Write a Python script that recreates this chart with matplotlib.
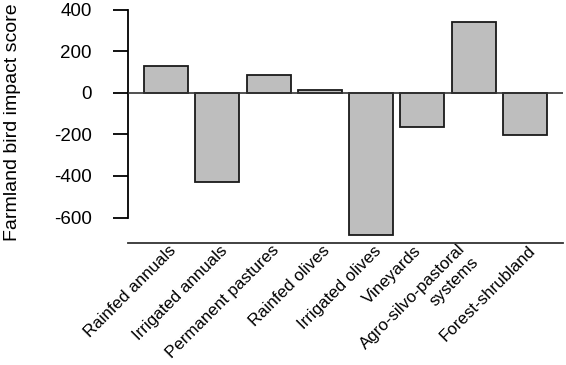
import numpy as np
import matplotlib
matplotlib.use("Agg")
import matplotlib.pyplot as plt
import matplotlib.transforms as mtransforms

plt.rcParams['font.family'] = ['Liberation Sans', 'DejaVu Sans']

# land-use categories and impact scores
categories = ["Rainfed annuals", "Irrigated annuals", "Permanent pastures",
              "Rainfed olives", "Irrigated olives", "Vineyards",
              "Agro-silvo-pastoral\nsystems", "Forest-shrubland"]
scores = [130, -430, 85, 12, -685, -163, 340, -205]
yticks = [400, 200, 0, -200, -400, -600]

fig = plt.figure(figsize=(5.66, 3.65), dpi=100)
ax = fig.add_axes([128 / 566, 1 - 242.7 / 365, 435 / 566, 242.7 / 365])

x = np.arange(len(categories))
ax.bar(x, scores, width=0.857, color='#bebebe', edgecolor='#1a1a1a', linewidth=1.3, zorder=2)
ax.axhline(0, color='#333333', linewidth=1.2, zorder=3)

ax.set_xlim(-0.741, len(categories) - 1 + 0.741)
ax.set_ylim(-721, 446)

for s in ['top', 'right']:
    ax.spines[s].set_visible(False)
ax.spines['left'].set_bounds(-600, 400)
ax.spines['left'].set_linewidth(1.3)
ax.spines['bottom'].set_linewidth(1.3)
ax.spines['bottom'].set_color('#333333')

ax.set_yticks(yticks)
ax.set_yticklabels([str(v) for v in yticks], fontsize=13.5)
ax.tick_params(axis='y', length=11, width=1.3, pad=15)

ax.set_xticks(x)
ax.set_xticklabels(categories, rotation=45, ha='right', va='center', rotation_mode='anchor',
                   fontsize=12.2, multialignment='right', linespacing=1.3)
ax.tick_params(axis='x', length=0, pad=4)
# nudge of each label (pixels); vineyards and agro sit further left in the original
shift_px = [(8, 0), (8, 0), (8, 0), (8, 0), (8, 0), (-4, 0), (-4, -5), (8, 0)]
for lab, (dx, dy) in zip(ax.get_xticklabels(), shift_px):
    off = mtransforms.ScaledTranslation(dx / 100, dy / 100, fig.dpi_scale_trans)
    lab.set_transform(lab.get_transform() + off)

fig.text(13 / 566, 1 - 122 / 365, "Farmland bird impact score", rotation=90,
         ha='center', va='center', fontsize=14)

fig.savefig("out.png", dpi=100)
